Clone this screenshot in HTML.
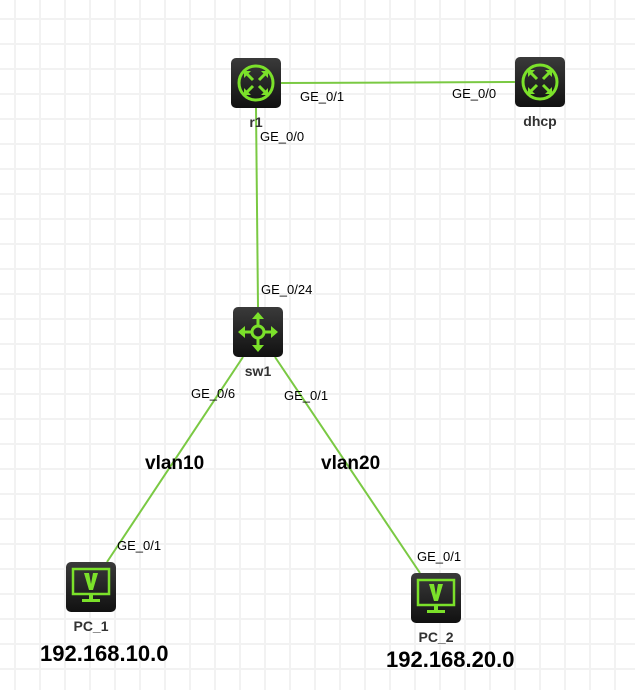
<!DOCTYPE html>
<html><head><meta charset="utf-8"><style>
html,body{margin:0;padding:0;background:#fff;}
svg{display:block;font-family:"Liberation Sans",sans-serif;}
</style></head><body>
<svg width="635" height="690" viewBox="0 0 635 690" xmlns="http://www.w3.org/2000/svg">
<defs>
<pattern id="g" x="14" y="18" width="25" height="25" patternUnits="userSpaceOnUse">
<rect x="0" y="0" width="2" height="25" fill="#f2f2f2"/>
<rect x="0" y="0" width="25" height="2" fill="#f2f2f2"/>
</pattern>
<linearGradient id="bg" x1="0" y1="0" x2="0" y2="1"><stop offset="0" stop-color="#3a3a3a"/><stop offset="1" stop-color="#111"/></linearGradient>
<g id="router">
<rect x="0" y="0" width="50" height="50" rx="5" fill="url(#bg)"/>
<circle cx="25" cy="25" r="17" fill="none" stroke="#7be12a" stroke-width="3"/>
<g stroke="#7be12a" stroke-width="3" fill="none">
<path d="M15 15 L22 22 M35 15 L28 22 M15 35 L22 28 M35 35 L28 28"/>
</g>
<g fill="#7be12a">
<path d="M13 13 L20 13 L13 20Z M37 13 L30 13 L37 20Z M13 37 L20 37 L13 30Z M37 37 L30 37 L37 30Z"/>
</g>
</g>
<g id="switch">
<rect x="0" y="0" width="50" height="50" rx="5" fill="url(#bg)"/>
<circle cx="25" cy="25" r="6" fill="none" stroke="#7be12a" stroke-width="3"/>
<g stroke="#7be12a" stroke-width="3"><path d="M25 19 V10 M25 31 V40 M19 25 H10 M31 25 H40"/></g>
<g fill="#7be12a"><path d="M25 5 L31 12 L19 12Z M25 45 L31 38 L19 38Z M5 25 L12 19 L12 31Z M45 25 L38 19 L38 31Z"/></g>
</g>
<g id="pc">
<rect x="0" y="0" width="50" height="50" rx="5" fill="url(#bg)"/>
<rect x="7" y="7" width="36" height="25" fill="none" stroke="#7be12a" stroke-width="2.5"/>
<path d="M18 11 L23 11 L25 22 L27 11 L32 11 L27 28 L23 28Z" fill="#7be12a"/>
<rect x="23" y="33" width="4" height="4" fill="#7be12a"/>
<rect x="16" y="37" width="18" height="3" fill="#7be12a"/>
</g>
</defs>
<rect width="635" height="690" fill="url(#g)"/>
<g stroke="#7ac943" stroke-width="2" fill="none">
<line x1="281" y1="83" x2="515" y2="82"/>
<line x1="256" y1="108" x2="258" y2="307"/>
<line x1="243" y1="357" x2="107" y2="562"/>
<line x1="275" y1="357" x2="420" y2="573"/>
</g>
<use href="#router" x="231" y="58"/>
<use href="#router" x="515" y="57"/>
<use href="#switch" x="233" y="307"/>
<use href="#pc" x="66" y="562"/>
<use href="#pc" x="411" y="573"/>
<g font-size="13" fill="#000">
<text x="300" y="101">GE_0/1</text>
<text x="452" y="98">GE_0/0</text>
<text x="260" y="141">GE_0/0</text>
<text x="261" y="294">GE_0/24</text>
<text x="191" y="398">GE_0/6</text>
<text x="284" y="400">GE_0/1</text>
<text x="117" y="550">GE_0/1</text>
<text x="417" y="561">GE_0/1</text>
</g>
<g font-size="14" font-weight="bold" fill="#333" text-anchor="middle">
<text x="256" y="127">r1</text>
<text x="540" y="126">dhcp</text>
<text x="258" y="376">sw1</text>
<text x="91" y="631">PC_1</text>
<text x="436" y="642">PC_2</text>
</g>
<g font-size="19" font-weight="bold" fill="#000">
<text x="145" y="469">vlan10</text>
<text x="321" y="469">vlan20</text>
</g>
<g font-size="22" font-weight="bold" fill="#000">
<text x="40" y="661">192.168.10.0</text>
<text x="386" y="667">192.168.20.0</text>
</g>
</svg>
</body></html>
